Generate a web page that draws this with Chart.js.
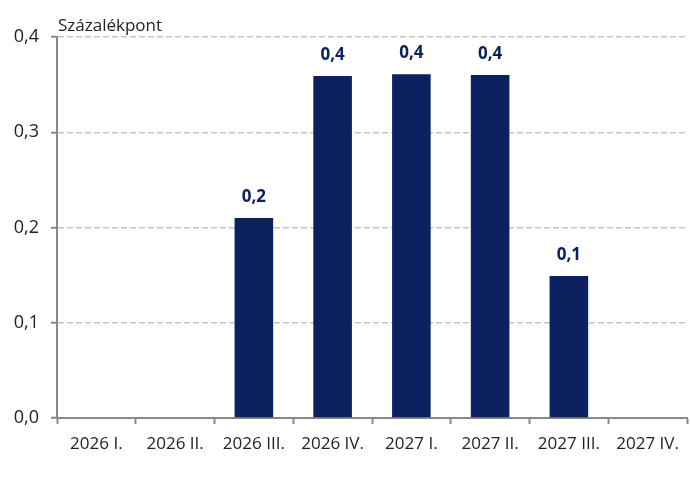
<!DOCTYPE html>
<html>
<head>
<meta charset="utf-8">
<script src="https://cdn.jsdelivr.net/npm/chart.js@4/dist/chart.umd.min.js"></script>
<style>
  html, body { margin: 0; padding: 0; background: #fff; }
  #wrap { width: 690px; height: 490px; }
</style>
</head>
<body>
<div id="wrap"><canvas id="c"></canvas></div>
<script>
// negyedévek
var quarters = ["2026 I.", "2026 II.", "2026 III.", "2026 IV.", "2027 I.", "2027 II.", "2027 III.", "2027 IV."];
// hatás, százalékpont
var impact = [0, 0, 0.21, 0.359, 0.361, 0.36, 0.149, 0];
var yTicks = [0, 0.1, 0.2, 0.3, 0.4];
var unitLabel = "Százalékpont";

var navy = "#0b2160";
var fontFam = "'Open Sans', 'Noto Sans', sans-serif";

function huNum(v) {
  return v.toFixed(1).replace(".", ",");
}

// érték feliratok a bárok fölé + mértékegység
var labelsPlugin = {
  id: "labels",
  afterDatasetsDraw: function (chart) {
    var ctx = chart.ctx;
    var meta = chart.getDatasetMeta(0);
    ctx.save();
    ctx.fillStyle = navy;
    ctx.font = "bold 17px " + fontFam;
    ctx.textAlign = "center";
    ctx.textBaseline = "alphabetic";
    meta.data.forEach(function (bar, i) {
      var v = impact[i];
      if (!v) return;
      ctx.fillText(huNum(v), bar.x, bar.y - 16);
    });
    ctx.fillStyle = "#222";
    ctx.font = "17px " + fontFam;
    ctx.textAlign = "left";
    ctx.fillText(unitLabel, chart.chartArea.left + 1, chart.chartArea.top - 6);
    ctx.restore();
  }
};

new Chart(document.getElementById("c"), {
  type: "bar",
  data: {
    labels: quarters,
    datasets: [{
      data: impact,
      backgroundColor: navy,
      barPercentage: 0.49,
      categoryPercentage: 1
    }]
  },
  options: {
    responsive: true,
    maintainAspectRatio: false,
    animation: false,
    layout: { padding: { top: 37, right: 3, bottom: 0, left: 0 } },
    plugins: {
      legend: { display: false },
      tooltip: { enabled: false }
    },
    scales: {
      x: {
        grid: {
          offset: true,
          drawOnChartArea: false,
          drawTicks: true,
          tickLength: 6,
          tickColor: "#888",
          tickWidth: 2
        },
        border: { color: "#888", width: 2 },
        ticks: {
          color: "#222",
          font: { family: fontFam, size: 17 },
          padding: 10,
          maxRotation: 0
        },
        afterFit: function (s) { s.height = 72; }
      },
      y: {
        min: 0,
        max: 0.4,
        afterBuildTicks: function (s) {
          s.ticks = yTicks.map(function (v) { return { value: v }; });
        },
        grid: {
          color: "#c4c4c4",
          lineWidth: 1.5,
          tickLength: 6,
          tickColor: "#888",
          tickWidth: 2,
          tickBorderDash: []
        },
        border: { color: "#888", width: 2, dash: [6, 3] },
        ticks: {
          color: "#222",
          font: { family: fontFam, size: 18 },
          padding: 12,
          callback: function (v) { return huNum(v); }
        },
        afterFit: function (s) { s.width = 57; }
      }
    }
  },
  plugins: [labelsPlugin]
});
</script>
</body>
</html>
